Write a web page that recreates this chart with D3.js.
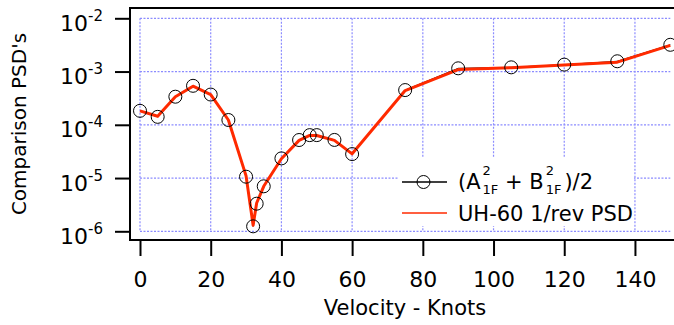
<!DOCTYPE html>
<html>
<head>
<meta charset="utf-8">
<script src="https://cdn.jsdelivr.net/npm/d3@7"></script>
<style>
  html, body { margin: 0; padding: 0; background: #fff; }
  svg { display: block; }
  text { font-family: "DejaVu Sans", sans-serif; fill: #000; }
</style>
</head>
<body>
<svg id="chart" width="674" height="325"></svg>
<script>
// ---- data ----
const velocity = [0, 5, 10, 15, 20, 25, 30, 32, 33, 35, 40, 45, 48, 50, 55, 60, 75, 90, 105, 120, 135, 150];
const coeffValues = [1.83e-4, 1.41e-4, 3.37e-4, 5.4e-4, 3.7e-4, 1.23e-4, 1.06e-5, 1.24e-6, 3.3e-6, 7.0e-6,
  2.34e-5, 5.18e-5, 6.4e-5, 6.4e-5, 5.2e-5, 2.82e-5, 4.49e-4, 1.15e-3, 1.2e-3, 1.35e-3, 1.56e-3, 3.18e-3];
const psdValues = [1.83e-4, 1.45e-4, 3.37e-4, 5.3e-4, 3.7e-4, 1.23e-4, 1.1e-5, 1.3e-6, 3.4e-6, 7.0e-6,
  2.3e-5, 5.1e-5, 6.3e-5, 6.3e-5, 5.1e-5, 2.85e-5, 4.4e-4, 1.09e-3, 1.18e-3, 1.33e-3, 1.5e-3, 3.1e-3];
const xTickValues = [0, 20, 40, 60, 80, 100, 120, 140];
const xTickLabels = ["0", "20", "40", "60", "80", "100", "120", "140"];
const yTickValues = [1e-6, 1e-5, 1e-4, 1e-3, 1e-2];
const yTickExponents = ["-6", "-5", "-4", "-3", "-2"];
const xTitle = "Velocity - Knots";
const yTitle = "Comparison PSD's";
const legendLabel2 = "UH-60 1/rev PSD";

// ---- layout ----
const svg = d3.select("#chart");
const plotLeft = 130, plotRight = 674, plotTop = 8, plotBottom = 240;
const x = d3.scaleLinear().domain([0, 150]).range([140, 670.3]);
const y = d3.scaleLog().domain([1e-6, 1e-2]).range([231.3, 18.3]);
const gridColor = "#8c8cff";
const red = "#ff2a00";

// grid
const grid = svg.append("g");
grid.selectAll("line.h").data(yTickValues).join("line")
  .attr("x1", x(0)).attr("x2", x(150))
  .attr("y1", d => y(d)).attr("y2", d => y(d))
  .attr("stroke", gridColor).attr("stroke-width", 1.2).attr("stroke-dasharray", "2,1.5");
grid.selectAll("line.v").data(xTickValues).join("line")
  .attr("x1", d => x(d)).attr("x2", d => x(d))
  .attr("y1", y(1e-2)).attr("y2", y(1e-6))
  .attr("stroke", gridColor).attr("stroke-width", 1.2).attr("stroke-dasharray", "2,1.5");

// legend background (covers grid)
svg.append("rect").attr("x", 398).attr("y", 157).attr("width", 236).attr("height", 69).attr("fill", "#fff");

// data lines
const line = (vals) => d3.line().x((d, i) => x(velocity[i])).y(d => y(d))(vals);
svg.append("path").attr("d", line(coeffValues)).attr("fill", "none").attr("stroke", "#000").attr("stroke-width", 1);
svg.append("path").attr("d", line(psdValues)).attr("fill", "none").attr("stroke", red)
  .attr("stroke-width", 3).attr("stroke-linejoin", "round");
svg.append("g").selectAll("circle").data(coeffValues).join("circle")
  .attr("cx", (d, i) => x(velocity[i])).attr("cy", d => y(d)).attr("r", 6.5)
  .attr("fill", "none").attr("stroke", "#000").attr("stroke-width", 1);

// frame
svg.append("line").attr("x1", plotLeft - 1).attr("x2", plotRight).attr("y1", plotTop).attr("y2", plotTop)
  .attr("stroke", "#000").attr("stroke-width", 2);
svg.append("line").attr("x1", plotLeft).attr("x2", plotLeft).attr("y1", plotTop).attr("y2", plotBottom)
  .attr("stroke", "#000").attr("stroke-width", 2);
svg.append("line").attr("x1", plotLeft - 1).attr("x2", plotRight).attr("y1", plotBottom).attr("y2", plotBottom)
  .attr("stroke", "#000").attr("stroke-width", 2);

// x axis
const xAxis = svg.append("g").attr("transform", `translate(0,${plotBottom})`)
  .call(d3.axisBottom(x).tickValues(xTickValues).tickFormat((d, i) => xTickLabels[i]).tickSize(16).tickSizeOuter(0));
xAxis.select(".domain").remove();
xAxis.selectAll(".tick line").attr("stroke", "#000").attr("stroke-width", 2);
xAxis.selectAll(".tick text").attr("y", 46.5).attr("dy", null)
  .style("font-family", "DejaVu Sans").style("font-size", "22px").attr("fill", "#000");

// y axis
const yAxis = svg.append("g").attr("transform", `translate(${plotLeft},0)`)
  .call(d3.axisLeft(y).tickValues(yTickValues).tickFormat("").tickSize(15).tickSizeOuter(0));
yAxis.select(".domain").remove();
yAxis.selectAll(".tick line").attr("stroke", "#000").attr("stroke-width", 2);
yAxis.selectAll(".tick").each(function (d, i) {
  const t = d3.select(this).select("text");
  t.text(null).attr("x", -27).attr("y", 12).attr("dy", null).attr("text-anchor", "end")
    .style("font-family", "DejaVu Sans").attr("fill", "#000");
  t.append("tspan").style("font-size", "22px").text("10");
  t.append("tspan").style("font-size", "15px").attr("dy", -10).text(yTickExponents[i]);
});

// titles
svg.append("text").attr("x", 405).attr("y", 315).attr("text-anchor", "middle")
  .style("font-size", "21px").text(xTitle);
svg.append("text").attr("transform", "translate(26,124) rotate(-90)").attr("text-anchor", "middle")
  .style("font-size", "20px").text(yTitle);

// legend
const lg = svg.append("g");
lg.append("line").attr("x1", 402).attr("x2", 447).attr("y1", 182).attr("y2", 182).attr("stroke", "#000").attr("stroke-width", 1.5);
lg.append("circle").attr("cx", 423.5).attr("cy", 182).attr("r", 6.5).attr("fill", "none").attr("stroke", "#000").attr("stroke-width", 1);
lg.append("line").attr("x1", 402).attr("x2", 447).attr("y1", 213).attr("y2", 213).attr("stroke", red).attr("stroke-width", 1.5);
lg.append("text").attr("x", 458).attr("y", 221).style("font-size", "21px").text(legendLabel2);

let cx = 458;
function piece(str, size, base) {
  const t = lg.append("text").attr("x", cx).attr("y", base).style("font-size", size + "px").attr("xml:space", "preserve").text(str);
  return t.node().getComputedTextLength();
}
function mainPiece(str) { cx += piece(str, 21, 189); }
function stack() {
  const w1 = piece("2", 13, 175);
  const w2 = piece("1F", 13, 194);
  cx += Math.max(w1, w2);
}
mainPiece("(A");
cx += 2; stack();
mainPiece(" + B");
cx += 2; stack();
cx += 3;
mainPiece(")/2");
</script>
</body>
</html>
